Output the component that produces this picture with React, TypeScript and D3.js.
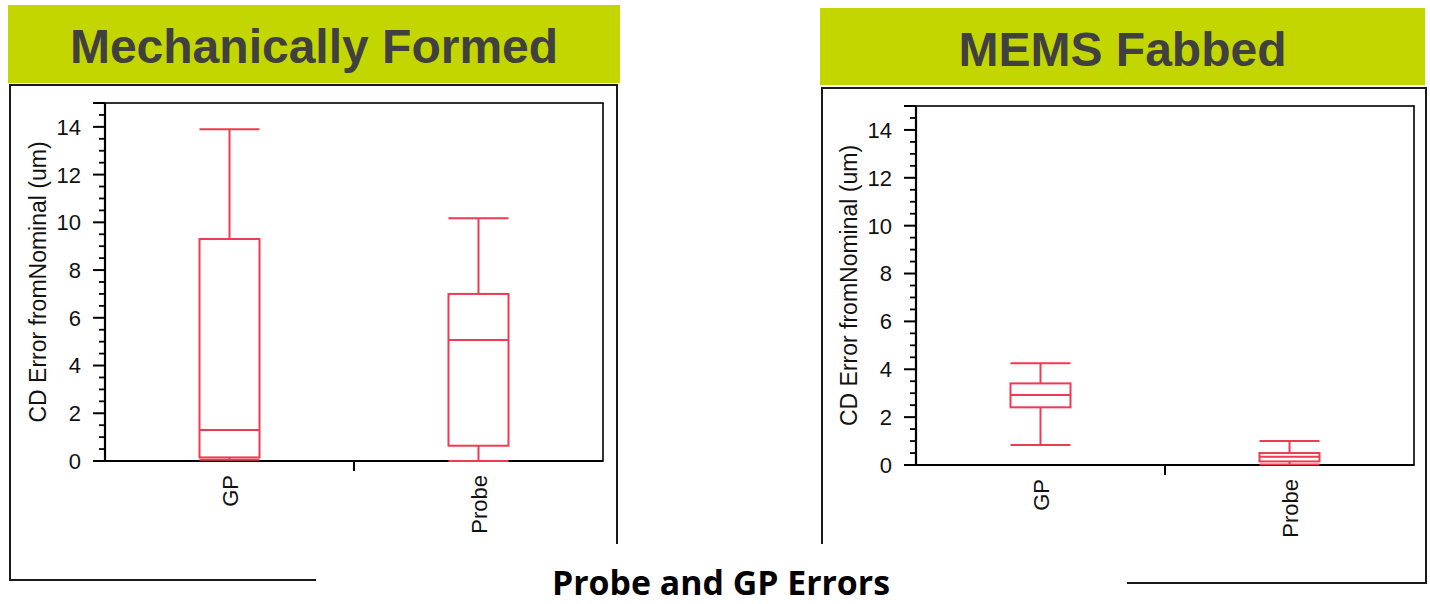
import React from 'react';
import * as d3 from 'd3';

// Categories shown on each panel's x axis
const categories = ['GP', 'Probe'];

// Panel headings
const panelTitles = ['Mechanically Formed', 'MEMS Fabbed'];

// Box summaries per category: [min, q1, median, q3, max] in um
const mechanicalGP = [0.05, 0.15, 1.3, 9.3, 13.9];
const mechanicalProbe = [0.0, 0.64, 5.07, 7.0, 10.17];
const memsGP = [0.84, 2.41, 2.92, 3.41, 4.25];
const memsProbe = [0.02, 0.15, 0.34, 0.5, 1.0];

// Y axis
const yDomain = [0, 15];
const yTickLabels = [0, 2, 4, 6, 8, 10, 12, 14];
const yAxisTitle = 'CD Error fromNominal (um)';
const footerTitle = 'Probe and GP Errors';

const RED = '#ee3a52';
const BANNER = '#c4d600';
const TITLE_GRAY = '#404040';
const FONT = "'Liberation Sans', Arial, sans-serif";

type PanelLayout = {
  banner: [number, number, number, number];
  titleBaseline: number;
  frame: [number, number, number, number];
  plot: [number, number, number, number]; // left, top, right, bottom
};

const layouts: PanelLayout[] = [
  { banner: [8, 5, 612, 78], titleBaseline: 63, frame: [10, 85, 617, 580], plot: [105, 103, 603, 461] },
  { banner: [820, 8, 605, 77], titleBaseline: 66, frame: [822, 88, 1426, 583], plot: [916, 106, 1414, 465] },
];

const series = [
  [mechanicalGP, mechanicalProbe],
  [memsGP, memsProbe],
];

function Panel({ layout, title, boxes }: { layout: PanelLayout; title: string; boxes: number[][] }) {
  const [pl, pt, pr, pb] = layout.plot;
  const y = d3.scaleLinear().domain(yDomain).range([pb, pt]);
  const x = d3.scaleBand<string>().domain(categories).range([pl, pr]);
  const minor = d3.range(yDomain[0], yDomain[1] + 0.001, 0.5);
  const boxW = 60;
  const [bx, by, bw, bh] = layout.banner;
  const [fl, ft, fr, fb] = layout.frame;
  const midX = (pl + pr) / 2;
  const midY = (pt + pb) / 2;

  return (
    <g>
      <rect x={bx} y={by} width={bw} height={bh} fill={BANNER} />
      <text
        x={bx + bw / 2}
        y={layout.titleBaseline}
        textAnchor="middle"
        fontFamily={FONT}
        fontWeight="bold"
        fontSize={48}
        fill={TITLE_GRAY}
      >
        {title}
      </text>

      {/* outer frame */}
      <rect x={fl} y={ft} width={fr - fl} height={fb - ft} fill="none" stroke="#1a1a1a" strokeWidth={2} />

      {/* plot frame */}
      <rect x={pl} y={pt} width={pr - pl} height={pb - pt} fill="none" stroke="#000" strokeWidth={1.6} />
      <line x1={pl} x2={pl} y1={pt} y2={pb} stroke="#000" strokeWidth={2.2} />
      <line x1={pl} x2={pr} y1={pb} y2={pb} stroke="#000" strokeWidth={2.2} />

      {/* y ticks */}
      {minor.map((v) => {
        const major = v % 2 === 0 || v === yDomain[1];
        return (
          <line
            key={v}
            x1={pl - (major ? 12 : 6)}
            x2={pl}
            y1={y(v)}
            y2={y(v)}
            stroke="#000"
            strokeWidth={major ? 2 : 1.8}
          />
        );
      })}
      {yTickLabels.map((v) => (
        <text
          key={v}
          x={pl - 24}
          y={y(v)}
          dy="0.36em"
          textAnchor="end"
          fontFamily={FONT}
          fontSize={22}
          fill="#111"
        >
          {v}
        </text>
      ))}
      <text
        transform={`translate(${pl - 59},${midY}) rotate(-90)`}
        textAnchor="middle"
        fontFamily={FONT}
        fontSize={23}
        fill="#111"
      >
        {yAxisTitle}
      </text>

      {/* x separator tick and category labels */}
      <line x1={midX} x2={midX} y1={pb} y2={pb + 10} stroke="#000" strokeWidth={2} />
      {categories.map((c) => {
        const cx = (x(c) ?? 0) + x.bandwidth() / 2;
        return (
          <text
            key={c}
            transform={`translate(${cx + 8},${pb + 14}) rotate(-90)`}
            textAnchor="end"
            fontFamily={FONT}
            fontSize={22}
            fill="#111"
          >
            {c}
          </text>
        );
      })}

      {/* box plots */}
      {categories.map((c, i) => {
        const [mn, q1, med, q3, mx] = boxes[i];
        const cx = (x(c) ?? 0) + x.bandwidth() / 2;
        const l = cx - boxW / 2;
        const r = cx + boxW / 2;
        return (
          <g key={c} stroke={RED} strokeWidth={2} fill="none">
            <line x1={cx} x2={cx} y1={y(mx)} y2={y(q3)} />
            <line x1={cx} x2={cx} y1={y(q1)} y2={y(mn)} />
            <line x1={l} x2={r} y1={y(mx)} y2={y(mx)} />
            <line x1={l} x2={r} y1={y(mn)} y2={y(mn)} />
            <rect x={l} y={y(q3)} width={boxW} height={y(q1) - y(q3)} />
            <line x1={l} x2={r} y1={y(med)} y2={y(med)} />
          </g>
        );
      })}
    </g>
  );
}

export default function App() {
  return (
    <div style={{ position: 'absolute', left: 0, top: 0 }}>
      <svg width={1430} height={604} style={{ display: 'block', background: '#fff' }}>
        {layouts.map((layout, i) => (
          <Panel key={i} layout={layout} title={panelTitles[i]} boxes={series[i]} />
        ))}
        {/* footer caption sits on a white panel over the frames */}
        <rect x={316} y={544} width={811} height={60} fill="#fff" />
        <text
          x={721}
          y={595}
          textAnchor="middle"
          fontFamily="'Open Sans', sans-serif"
          fontWeight="bold"
          fontSize={34}
          textLength={338}
          lengthAdjust="spacingAndGlyphs"
          fill="#000"
        >
          {footerTitle}
        </text>
      </svg>
    </div>
  );
}
